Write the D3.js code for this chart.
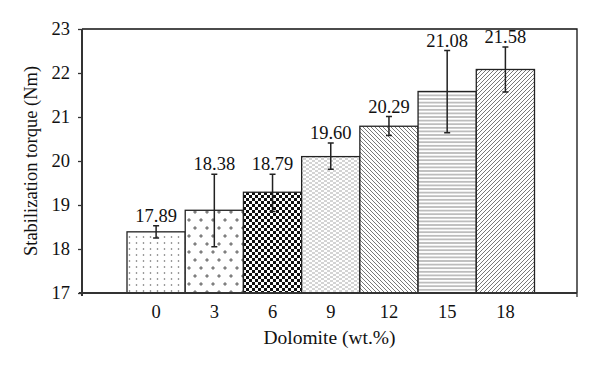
<!DOCTYPE html>
<html><head><meta charset="utf-8">
<script src="https://cdn.jsdelivr.net/npm/d3@7"></script>
<style>body{margin:0;background:#fff}svg{display:block}text{font-family:"Liberation Serif","Times New Roman",serif;fill:#111}</style>
</head><body><svg id="c" width="600" height="370"></svg>
<script>
const categories = ["0","3","6","9","12","15","18"];
const barValues = [18.39, 18.88, 19.29, 20.10, 20.79, 21.58, 22.08];
const valueLabels = ["17.89","18.38","18.79","19.60","20.29","21.08","21.58"];
const errLow  = [18.25, 18.05, 18.85, 19.81, 20.58, 20.64, 21.57];
const errHigh = [18.53, 19.70, 19.70, 20.41, 21.01, 22.51, 22.59];
const yTicks = [17,18,19,20,21,22,23];
const patterns = ["dots","plus","checker","dash","diagDown","horiz","diagUp"];

const svg = d3.select("#c");
const L=82, R=577, T=29, B=293;
const x = d3.scaleBand().domain(categories).range([127,534.5]).padding(0);
const y = d3.scaleLinear().domain([17,23]).range([B,T]);

const defs = svg.append("defs");
function pat(id,w,h){ const p=defs.append("pattern").attr("id",id).attr("patternUnits","userSpaceOnUse").attr("width",w).attr("height",h);
  p.append("rect").attr("width",w).attr("height",h).attr("fill","#fff"); return p;}
let p;
p=pat("dots",7,6); p.append("circle").attr("cx",3.5).attr("cy",3).attr("r",0.8).attr("fill","#666");
p=pat("plus",12,16);
[[3,4],[9,12]].forEach(([cx,cy])=>{p.append("path").attr("d",`M${cx-1.8},${cy}H${cx+1.8}M${cx},${cy-1.8}V${cy+1.8}`).attr("stroke","#555").attr("stroke-width",1);});
p=pat("checker",6,6); p.append("rect").attr("width",3).attr("height",3).attr("fill","#111"); p.append("rect").attr("x",3).attr("y",3).attr("width",3).attr("height",3).attr("fill","#111");
p=pat("dash",6,4); p.append("path").attr("d","M0,1H3M3,3H6").attr("stroke","#aaa").attr("stroke-width",1.1);
p=pat("diagDown",4,4); p.append("path").attr("d","M-1,-1L5,5M-1,3L1,5M3,-1L5,1").attr("stroke","#555").attr("stroke-width",0.8);
p=pat("horiz",4,3.6); p.append("path").attr("d","M0,1.8H4").attr("stroke","#888").attr("stroke-width",1);
p=pat("diagUp",4,4); p.append("path").attr("d","M-1,5L5,-1M-1,1L1,-1M3,5L5,3").attr("stroke","#555").attr("stroke-width",0.8);

// frame top/right
svg.append("path").attr("d",`M${L},${T}H${R}V${B}`).attr("fill","none").attr("stroke","#111").attr("stroke-width",1.3);

// bars
svg.selectAll("rect.bar").data(categories).join("rect").attr("class","bar")
  .attr("x",d=>x(d)).attr("width",x.bandwidth())
  .attr("y",(d,i)=>y(barValues[i])).attr("height",(d,i)=>B-y(barValues[i]))
  .attr("fill",(d,i)=>`url(#${patterns[i]})`).attr("stroke","#222").attr("stroke-width",1.3);

// error bars
const eg = svg.append("g").attr("stroke","#222").attr("stroke-width",1.5);
categories.forEach((d,i)=>{
  const cx = x(d)+x.bandwidth()/2;
  eg.append("path").attr("d",`M${cx},${y(errLow[i])}V${y(errHigh[i])}M${cx-3},${y(errLow[i])}H${cx+3}M${cx-3},${y(errHigh[i])}H${cx+3}`);
});
svg.selectAll("text.val").data(categories).join("text").attr("class","val")
  .attr("x",d=>x(d)+x.bandwidth()/2).attr("y",(d,i)=>y(errHigh[i])-4)
  .attr("text-anchor","middle").attr("font-size",18.5).text((d,i)=>valueLabels[i]);

// y axis
const ya = svg.append("g").attr("transform",`translate(${L},0)`)
  .call(d3.axisLeft(y).tickValues(yTicks).tickFormat(d3.format("d")).tickSize(4).tickPadding(8));
ya.select(".domain").remove();
ya.selectAll(".tick line").attr("stroke","#333").attr("stroke-width",1.3);
ya.selectAll(".tick text").attr("font-size",18.5).attr("font-family","Liberation Serif").attr("fill","#111");
svg.append("line").attr("x1",L).attr("x2",L).attr("y1",T).attr("y2",B+3).attr("stroke","#333").attr("stroke-width",2);

// x axis
const xa = svg.append("g").attr("transform",`translate(0,${B})`)
  .call(d3.axisBottom(x).tickSize(0).tickPadding(12));
xa.select(".domain").remove();
xa.selectAll(".tick text").attr("font-size",18.5).attr("font-family","Liberation Serif").attr("fill","#111");
svg.append("line").attr("x1",L-3).attr("x2",R).attr("y1",B).attr("y2",B).attr("stroke","#333").attr("stroke-width",2);
svg.append("line").attr("x1",R).attr("x2",R).attr("y1",B).attr("y2",B+4).attr("stroke","#333").attr("stroke-width",1.3);

svg.append("text").attr("x",(L+R)/2).attr("y",344).attr("text-anchor","middle").attr("font-size",19.5).text("Dolomite (wt.%)");
svg.append("text").attr("transform",`translate(37,${(T+B)/2}) rotate(-90)`).attr("text-anchor","middle").attr("font-size",18.5).text("Stabilization torque (Nm)");
</script></body></html>
